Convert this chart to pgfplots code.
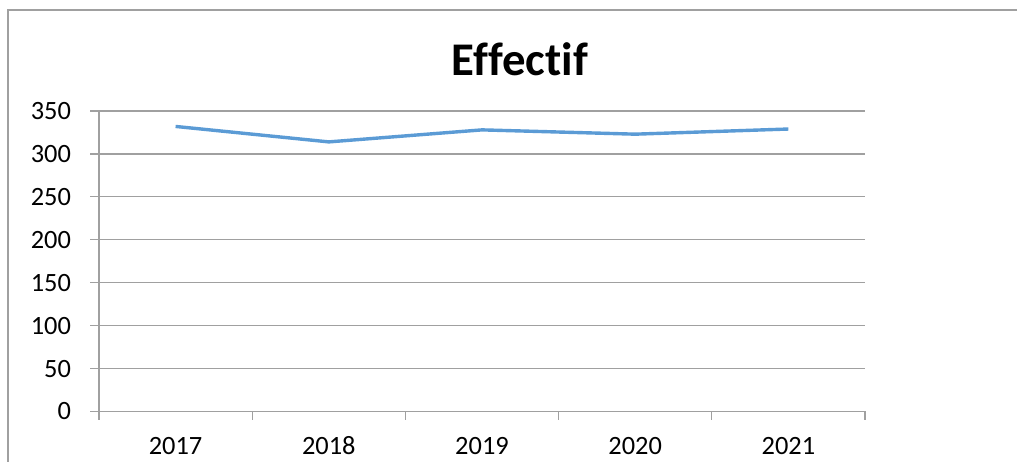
\documentclass[border=0pt]{standalone}
\usepackage{pgfplots}
\pgfplotsset{compat=1.18}
\usepackage{fontspec}
\setmainfont{Carlito}[Ligatures=NoCommon]
\definecolor{linecol}{RGB}{91,155,213}
\definecolor{gridcol}{RGB}{160,160,160}
\begin{document}
\begin{tikzpicture}[x=1bp,y=1bp]
\useasboundingbox (0,0) rectangle (1017,462);
\draw[gridcol, line width=1.2bp] (8,0) -- (8,452) -- (1017,452);
\node[font=\fontsize{47}{56}\selectfont\bfseries, anchor=base] at (520,386) {Effectif};
\begin{axis}[
  at={(99bp,50.5bp)}, anchor=origin,
  scale only axis, width=766bp, height=300.5bp,
  xmin=0, xmax=5, ymin=0, ymax=350,
  xtick={0,1,2,3,4,5},
  xticklabels={2017,2018,2019,2020,2021},
  x tick label as interval,
  ytick={0,50,...,350},
  axis x line*=bottom, axis y line*=left,
  axis line style={gridcol, line width=1.2bp, -},
  ymajorgrids, major grid style={gridcol, line width=1.2bp},
  tick align=outside, major tick length=8.5bp,
  tick style={gridcol, line width=1.2bp},
  ticklabel style={font=\fontsize{26.5}{30}\selectfont},
  /pgf/number format/assume math mode=true,
  yticklabel style={anchor=east, xshift=-16bp},
  xticklabel style={anchor=center, yshift=-26bp},
  clip=false,
]
\addplot[linecol, line width=3.4bp, line join=round] coordinates {
 (0.5,332) (1.5,314) (2.5,328) (3.5,323) (4.5,329)
};
\end{axis}
\end{tikzpicture}
\end{document}
